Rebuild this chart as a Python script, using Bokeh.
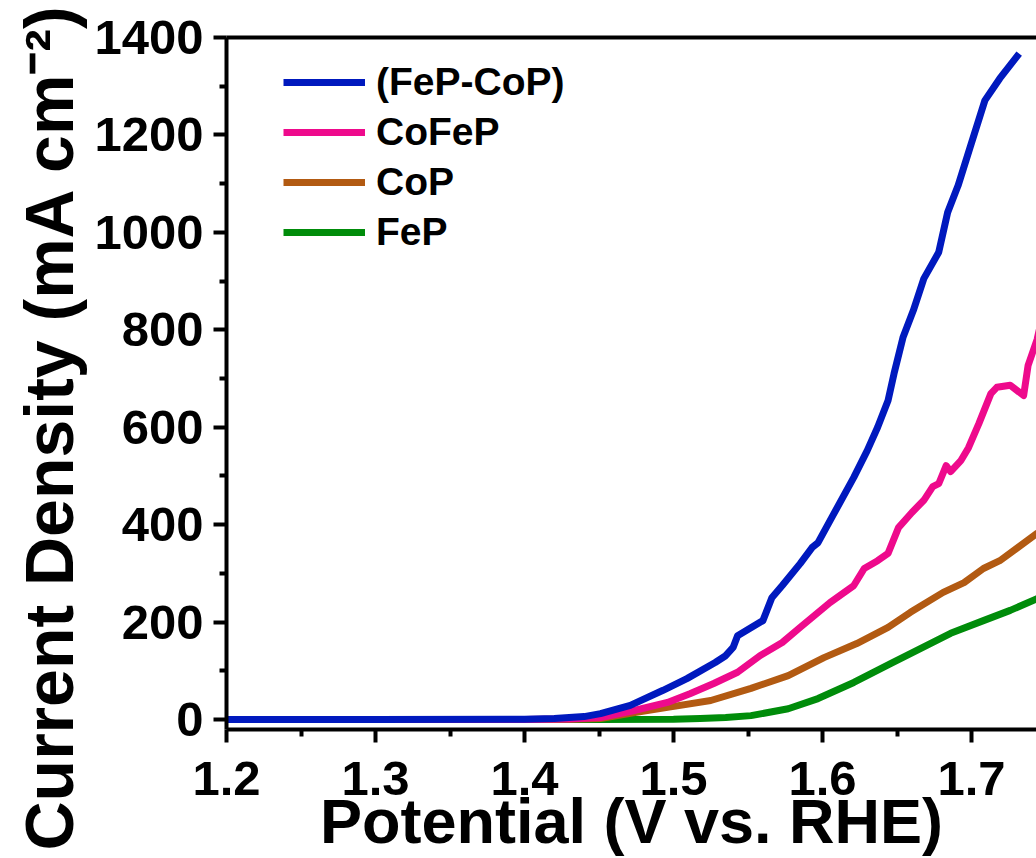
import math
from bokeh.plotting import figure
from bokeh.models import (Range1d, FixedTicker, LinearAxis, Legend, LegendItem, Title)
from bokeh.embed import file_html
from bokeh.resources import INLINE

# ---------------- data ----------------
series_names = ["(FeP-CoP)", "CoFeP", "CoP", "FeP"]

v_fepcop = [1.20, 1.30, 1.40, 1.42, 1.44, 1.451, 1.471, 1.493, 1.509, 1.528, 1.535, 1.540, 1.543,
            1.560, 1.566, 1.573, 1.585, 1.593, 1.597, 1.607, 1.621, 1.630, 1.637, 1.644, 1.648,
            1.654, 1.661, 1.668, 1.678, 1.684, 1.691, 1.699, 1.709, 1.719, 1.732]
j_fepcop = [0, 0, 0.5, 2, 6, 12, 29, 60, 84, 117, 131, 148, 172,
            203, 250, 275, 320, 353, 363, 419, 497, 552, 600, 655, 710,
            784, 840, 905, 959, 1041, 1096, 1174, 1271, 1316, 1367]

v_cofep = [1.20, 1.30, 1.40, 1.43, 1.451, 1.473, 1.496, 1.511, 1.527, 1.543, 1.558, 1.573, 1.585,
           1.605, 1.621, 1.628, 1.637, 1.644, 1.651, 1.660, 1.668, 1.674, 1.678, 1.683, 1.686,
           1.693, 1.698, 1.705, 1.713, 1.717, 1.726, 1.735, 1.738, 1.744, 1.750]
j_cofep = [0, 0, 0, 1, 4, 18, 35, 53, 74, 97, 131, 158, 189,
           240, 275, 310, 326, 341, 394, 425, 450, 478, 484, 521, 509,
           532, 558, 608, 669, 682, 686, 665, 727, 780, 860]

v_cop = [1.20, 1.40, 1.43, 1.451, 1.473, 1.496, 1.525, 1.552, 1.577, 1.601, 1.623, 1.644,
         1.659, 1.681, 1.695, 1.708, 1.719, 1.744, 1.750]
j_cop = [0, 0, 0.5, 2, 14, 25, 39, 64, 90, 127, 156, 189,
         220, 261, 281, 310, 326, 382, 395]

v_fep = [1.20, 1.45, 1.50, 1.518, 1.535, 1.552, 1.577, 1.597, 1.621, 1.646, 1.666, 1.686,
         1.708, 1.726, 1.744, 1.750]
j_fep = [0, 0, 0.5, 2, 4, 8, 22, 43, 76, 115, 146, 177,
         203, 224, 248, 256]

x_ticks = [1.2, 1.3, 1.4, 1.5, 1.6, 1.7]
x_minor = [1.25, 1.35, 1.45, 1.55, 1.65, 1.75]
y_ticks = [0, 200, 400, 600, 800, 1000, 1200, 1400]
y_minor = [100, 300, 500, 700, 900, 1100, 1300]

x_title = "Potential (V vs. RHE)"
y_title = "Current Density (mA cm\u207b\u00b2)"

colors = ["#0019BE", "#EE0A8C", "#B25A12", "#008C0A"]

# ---------------- geometry ----------------
W, H = 1036, 858
LEFT, TOP, BOTTOM = 226, 37, 129
FRAME_W = W - LEFT
X0, X1 = 1.2, 1.2 + FRAME_W / 1490.0
Y0, Y1 = -20.5, 1400

FONT = "Liberation Sans"

p = figure(width=W, height=H, output_backend="svg", toolbar_location=None,
           x_range=Range1d(X0, X1), y_range=Range1d(Y0, Y1),
           min_border_left=LEFT, min_border_right=0, min_border_top=TOP,
           min_border_bottom=BOTTOM)
p.outline_line_color = None
p.grid.visible = False
p.background_fill_color = "white"
p.border_fill_color = "white"

renderers = []
for v, j, c in [(v_fep, j_fep, colors[3]), (v_cop, j_cop, colors[2]),
                (v_cofep, j_cofep, colors[1]), (v_fepcop, j_fepcop, colors[0])]:
    r = p.line(v, j, line_color=c, line_width=7, line_join="round")
    renderers.append(r)
r_fep, r_cop, r_cofep, r_fepcop = renderers

for ax, ticks, minor in [(p.xaxis[0], x_ticks, x_minor), (p.yaxis[0], y_ticks, y_minor)]:
    ax.ticker = FixedTicker(ticks=ticks, minor_ticks=minor)
    ax.axis_line_width = 4
    ax.axis_line_color = "black"
    ax.major_tick_line_width = 4
    ax.minor_tick_line_width = 4
    ax.major_tick_out = 13
    ax.major_tick_in = 0
    ax.minor_tick_out = 7
    ax.minor_tick_in = 0
    ax.major_label_text_font = FONT
    ax.major_label_text_font_style = "bold"
    ax.major_label_text_font_size = "49px"
    ax.major_label_text_color = "black"

xa = p.xaxis[0]
xa.major_label_overrides = {t: f"{t:.1f}" for t in x_ticks}
xa.major_label_standoff = 19
xa.axis_label = x_title
xa.axis_label_text_font = FONT
xa.axis_label_text_font_style = "bold"
xa.axis_label_text_font_size = "63px"
xa.axis_label_text_color = "black"
xa.axis_label_standoff = -12
p.yaxis[0].major_label_standoff = 10

top_axis = LinearAxis(ticker=FixedTicker(ticks=[]), axis_line_width=4,
                      axis_line_color="black", major_tick_out=0, major_tick_in=0,
                      minor_tick_out=0, minor_tick_in=0,
                      major_label_text_font_size="0px")
p.add_layout(top_axis, "above")

# y title as a side title (offset = distance of its start below the frame bottom)
p.add_layout(Title(text=y_title, align="left", vertical_align="bottom",
                   text_font=FONT, text_font_style="bold", text_font_size="68px",
                   text_color="black", offset=-121), "left")

legend = Legend(items=[LegendItem(label=series_names[0], renderers=[r_fepcop]),
                       LegendItem(label=series_names[1], renderers=[r_cofep]),
                       LegendItem(label=series_names[2], renderers=[r_cop]),
                       LegendItem(label=series_names[3], renderers=[r_fep])],
                location=(57, 475), padding=0, margin=0, spacing=6,
                glyph_width=82, glyph_height=40, label_height=40, label_standoff=11,
                label_text_font=FONT, label_text_font_style="bold",
                label_text_font_size="39px", label_text_color="black",
                border_line_alpha=0, background_fill_alpha=0)
p.add_layout(legend)

open("out.html", "w").write(file_html(p, INLINE))
